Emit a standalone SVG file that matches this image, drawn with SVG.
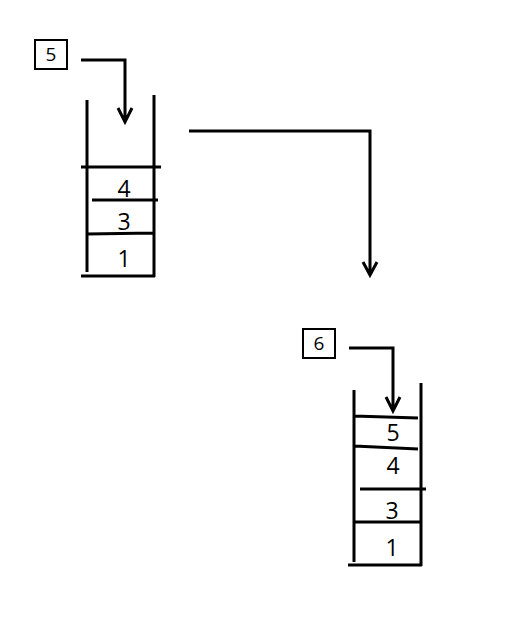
<svg xmlns="http://www.w3.org/2000/svg" width="511" height="634" viewBox="0 0 511 634">
<style>
.ln{stroke:#000;stroke-width:3;fill:none;stroke-linecap:butt;stroke-linejoin:miter}
.bx{stroke:#000;stroke-width:2;fill:#fff}
.t{font-family:"Open Sans","Noto Sans",sans-serif;font-size:23px;fill:#000;text-anchor:middle;dominant-baseline:central}
.tb{font-family:"Open Sans","Noto Sans",sans-serif;font-size:19px;fill:#000;text-anchor:middle;dominant-baseline:central}
</style>
<rect width="511" height="634" fill="#fff"/>
<g id="box5"><rect class="bx" x="35" y="40" width="32" height="29"/><text class="tb" x="51" y="54">5</text></g>
<g id="stack1">
<path class="ln" d="M87 100V272M154 95V277M81 276H155M81 167H161M92 200H158M87 234L154 233"/>
<text class="t" x="124" y="188">4</text>
<text class="t" x="124" y="221">3</text>
<text class="t" x="124" y="258">1</text>
</g>
<g id="box6"><rect class="bx" x="303" y="329" width="32" height="29"/><text class="tb" x="319" y="343">6</text></g>
<g id="stack2">
<path class="ln" d="M354 390V562M421 383V566M348 565H422M354 416L418 418M354 446L418 449M360 489H426M354 522H422"/>
<text class="t" x="393" y="432">5</text>
<text class="t" x="393" y="465">4</text>
<text class="t" x="392" y="510">3</text>
<text class="t" x="392" y="547">1</text>
</g>
<g id="connectors">
<path class="ln" d="M81 60H125V122M118 108L125 122L132 108"/>
<path class="ln" d="M189 131H370V275M363 262L370 275L377 262"/>
<path class="ln" d="M349 348H393V411M386 397L393 411L400 397"/>
</g>
</svg>
